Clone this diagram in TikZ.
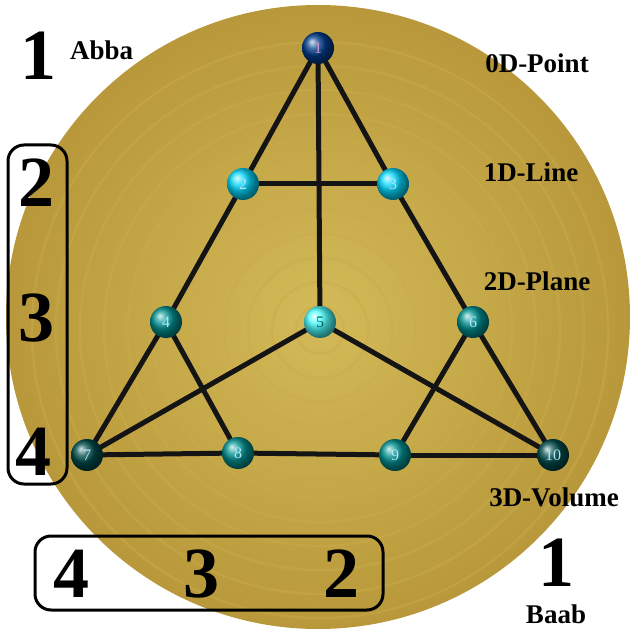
\documentclass[tikz,border=0pt]{standalone}
\usepackage{fontspec}
\setmainfont{Liberation Serif}
\pgfdeclarelayer{back}
\pgfdeclarelayer{edges}
\pgfsetlayers{back,edges,main}
\begin{document}
\begin{tikzpicture}[x=1pt,y=-1pt,
  edge/.style={line width=5pt,draw=black!92},
  ball/.style={circle,minimum size=32pt,inner sep=0pt,shading=ball,text=cyan!30,font=\fontsize{16}{16}\selectfont},
  teal/.style={ball,ball color=teal!85!cyan},
  bright/.style={ball,ball color=cyan!85!blue},
  centre/.style={ball,ball color=cyan!70!white,text=teal!80!black},
  dark/.style={ball,ball color=teal!60!black},
  topball/.style={ball,ball color=blue!40!teal!80!black,text=violet!40},
  big/.style={font=\bfseries\fontsize{72}{72}\selectfont,inner sep=0pt},
  lab/.style={font=\bfseries\fontsize{27}{27}\selectfont,inner sep=0pt},
  box/.style={line width=3pt,rounded corners=16pt,draw=black}]
\useasboundingbox (0,0) rectangle (632,631);
\definecolor{goldlight}{RGB}{212,186,88}
\definecolor{golddark}{RGB}{184,152,58}
\begin{pgfonlayer}{back}
\shade[inner color=goldlight,outer color=golddark] (318,317) circle (312);
\foreach \r in {24,48,...,300}{
  \draw[goldlight!60!golddark,line width=2.5pt,opacity=0.45] (320,330) circle (\r);
}
\end{pgfonlayer}
% nodes
\node[topball] (n1) at (318,48) {1};
\node[bright] (n2) at (243,184) {2};
\node[bright] (n3) at (393,184) {3};
\node[teal] (n4) at (166,322) {4};
\node[centre] (n5) at (320,322) {5};
\node[teal] (n6) at (473,322) {6};
\node[dark] (n7) at (87,455) {7};
\node[teal] (n8) at (238,453) {8};
\node[teal] (n9) at (395,455) {9};
\node[dark] (n10) at (553,455) {10};
% edges
\begin{pgfonlayer}{edges}
\draw[edge] (n1.center) -- (n2.center); \draw[edge] (n2.center) -- (n4.center); \draw[edge] (n4.center) -- (n7.center);
\draw[edge] (n1.center) -- (n3.center); \draw[edge] (n3.center) -- (n6.center); \draw[edge] (n6.center) -- (n10.center);
\draw[edge] (n7.center) -- (n8.center); \draw[edge] (n8.center) -- (n9.center); \draw[edge] (n9.center) -- (n10.center);
\draw[edge] (n2.center) -- (n3.center); \draw[edge] (n1.center) -- (n5.center);
\draw[edge] (n5.center) -- (n7.center); \draw[edge] (n5.center) -- (n10.center);
\draw[edge] (n4.center) -- (n8.center); \draw[edge] (n6.center) -- (n9.center);
\end{pgfonlayer}
% labels
\node[big] (one1) at (38,56) {1};
\node[lab,anchor=west] (abba) at (70,50) {Abba};
\node[lab] (l0) at (537,63) {0D-Point};
\node[lab] (l1) at (531,172) {1D-Line};
\node[lab] (l2) at (537,281) {2D-Plane};
\node[lab] (l3) at (554,497) {3D-Volume};
% left box
\draw[box] (8,145) rectangle (67,484);
\node[big] (a2) at (36,183) {2};
\node[big] (a3) at (36,318) {3};
\node[big] (a4) at (34,452) {4};
% bottom box
\draw[box] (35,536) rectangle (383,610);
\node[big] (b4) at (71,574) {4};
\node[big] (b3) at (201,574) {3};
\node[big] (b2) at (341,574) {2};
\node[big] (one2) at (556,563) {1};
\node[lab] (baab) at (556,614) {Baab};
\end{tikzpicture}
\end{document}
